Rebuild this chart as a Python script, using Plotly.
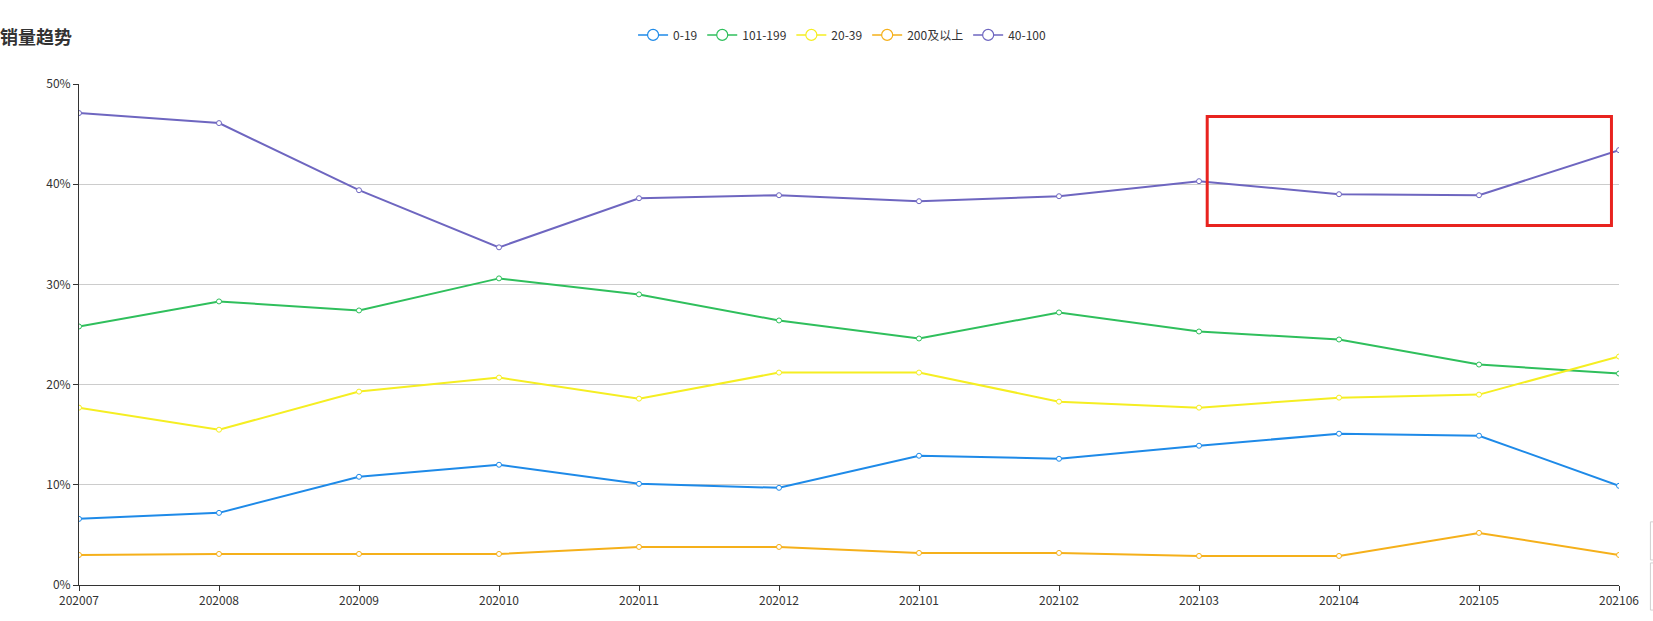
import plotly.graph_objects as go

months = ["202007", "202008", "202009", "202010", "202011", "202012",
          "202101", "202102", "202103", "202104", "202105", "202106"]

series_names = ["0-19", "101-199", "20-39", "200及以上", "40-100"]

v_0_19 = [6.6, 7.2, 10.8, 12.0, 10.1, 9.7, 12.9, 12.6, 13.9, 15.1, 14.9, 9.9]
v_101_199 = [25.8, 28.3, 27.4, 30.6, 29.0, 26.4, 24.6, 27.2, 25.3, 24.5, 22.0, 21.1]
v_20_39 = [17.7, 15.5, 19.3, 20.7, 18.6, 21.2, 21.2, 18.3, 17.7, 18.7, 19.0, 22.8]
v_200_up = [3.0, 3.1, 3.1, 3.1, 3.8, 3.8, 3.2, 3.2, 2.9, 2.9, 5.2, 3.0]
v_40_100 = [47.1, 46.1, 39.4, 33.7, 38.6, 38.9, 38.3, 38.8, 40.3, 39.0, 38.9, 43.4]

y_ticks = [0, 10, 20, 30, 40, 50]
y_tick_labels = ["0%", "10%", "20%", "30%", "40%", "50%"]

colors = ["#1E8AE8", "#2FBF5C", "#F5EE22", "#F5B01A", "#6E66C0"]
values = [v_0_19, v_101_199, v_20_39, v_200_up, v_40_100]

FONT = "Microsoft YaHei, Noto Sans CJK SC, Noto Sans, sans-serif"

fig = go.Figure()
for name, vals, col in zip(series_names, values, colors):
    fig.add_trace(go.Scatter(
        x=months, y=vals, name=name, mode="lines+markers",
        line=dict(color=col, width=2),
        marker=dict(symbol="circle", size=5, color="white",
                    line=dict(color=col, width=1)),
        showlegend=False,
    ))
# legend entries with larger hollow circle icons
for name, col in zip(series_names, colors):
    fig.add_trace(go.Scatter(
        x=[None], y=[None], name=name, mode="lines+markers",
        line=dict(color=col, width=1.5),
        marker=dict(symbol="circle", size=11, color="white",
                    line=dict(color=col, width=1.2)),
        showlegend=True,
    ))

# red highlight box (screenshot markup)
fig.add_shape(type="rect", xref="paper", yref="paper",
              x0=0.7326, x1=0.9951, y0=0.7176, y1=0.9353,
              line=dict(color="#E8231F", width=3), fillcolor="rgba(0,0,0,0)")
# small grey boxes at right edge
fig.add_shape(type="rect", xref="paper", yref="paper",
              x0=1.0204, x1=1.05, y0=0.05, y1=0.126,
              line=dict(color="#D0D0D0", width=1))
fig.add_shape(type="rect", xref="paper", yref="paper",
              x0=1.0204, x1=1.05, y0=-0.05, y1=0.044,
              line=dict(color="#D0D0D0", width=1))

fig.update_layout(
    width=1653, height=621,
    margin=dict(l=79, r=34, t=84, b=36, autoexpand=False),
    paper_bgcolor="white", plot_bgcolor="white",
    font=dict(family=FONT, size=12, color="#333333"),
    title=dict(text="<b>销量趋势</b>", x=0.0, xref="container", xanchor="left",
               y=1 - 38 / 621, yref="container", yanchor="middle",
               pad=dict(l=0, t=0, b=0, r=0),
               font=dict(family=FONT, size=18, color="#333333")),
    legend=dict(orientation="h", x=0.4955, xanchor="center", y=1.098, yanchor="middle",
                font=dict(family=FONT, size=12, color="#333333"),
                itemwidth=30, bgcolor="rgba(0,0,0,0)"),
    showlegend=True,
)

fig.update_xaxes(type="category", range=[0, len(months) - 1],
                 showline=True, linecolor="#333333", linewidth=1,
                 ticks="outside", ticklen=5, tickcolor="#333333",
                 showgrid=False, zeroline=False, automargin=False,
                 tickfont=dict(family=FONT, size=12, color="#333333"))
fig.update_yaxes(range=[0, 50], tickmode="array", tickvals=y_ticks, ticktext=y_tick_labels,
                 showline=True, linecolor="#333333", linewidth=1,
                 ticks="outside", ticklen=5, tickcolor="#333333",
                 showgrid=True, gridcolor="#CCCCCC", gridwidth=1,
                 zeroline=False, automargin=False,
                 tickfont=dict(family=FONT, size=12, color="#333333"))

fig.write_html("out.html", config={"displayModeBar": False},
               post_script="document.body.style.margin='0';")
